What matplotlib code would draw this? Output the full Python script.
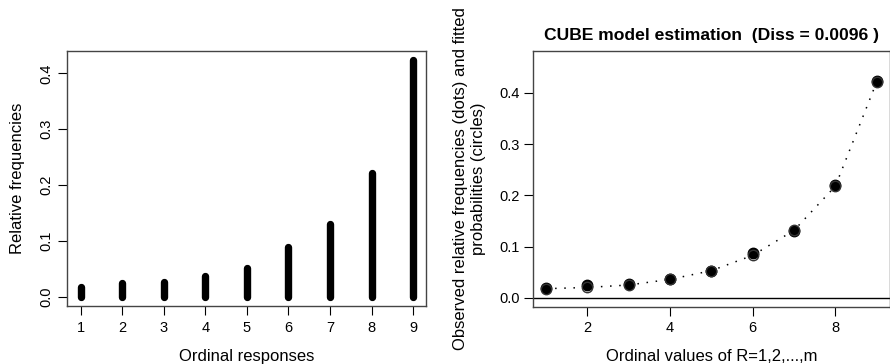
import numpy as np
import matplotlib.pyplot as plt

plt.rcParams['font.family'] = ['Liberation Sans', 'DejaVu Sans']
plt.rcParams['font.size'] = 10.5

# data
categories = [1, 2, 3, 4, 5, 6, 7, 8, 9]
observed = [0.018, 0.024, 0.026, 0.037, 0.052, 0.088, 0.130, 0.221, 0.423]
fitted = [0.0176, 0.0200, 0.0248, 0.0358, 0.0528, 0.0827, 0.1316, 0.2180, 0.4220]
diss = 0.0096

fig = plt.figure(figsize=(8.9, 3.64), dpi=100)

spine_col = '#444444'

# left: relative frequencies
ax1 = fig.add_axes([67/890, 58/364, 359/890, 255/364])
ax1.vlines(categories, 0, observed, colors='black', linewidth=5.3, capstyle='round')
ax1.set_xlim(0.67, 9.31)
ax1.set_ylim(-0.0169, 0.44)
ax1.set_xticks(categories)
ax1.set_yticks([0.0, 0.1, 0.2, 0.3, 0.4])
ax1.set_yticklabels(['0.0', '0.1', '0.2', '0.3', '0.4'], rotation=90, va='center')
ax1.tick_params(axis='both', length=6.5, width=0.8, pad=3)
ax1.tick_params(axis='x', pad=4)
ax1.set_xlabel('Ordinal responses', fontsize=12, va='top')
ax1.set_ylabel('Relative frequencies', fontsize=12)
ax1.xaxis.set_label_coords(0.5, -0.168)
ax1.yaxis.set_label_coords(-0.118, 0.5)
for s in ax1.spines.values():
    s.set_color(spine_col)
    s.set_linewidth(1)

# right: CUBE model estimation
ax2 = fig.add_axes([532.7/890, 57.3/364, 357.3/890, 255.7/364])
ax2.axhline(0, color='black', linewidth=1)
ax2.plot(categories, fitted, linestyle=(0, (1, 5)), color='black', linewidth=1.1)
ax2.plot(categories, observed, 'o', color='black', markersize=7.5)
ax2.plot(categories, fitted, 'o', markerfacecolor='none', markeredgecolor='#333333',
         markersize=7.5, markeredgewidth=1)
ax2.set_xlim(0.68, 9.32)
ax2.set_ylim(-0.0176, 0.482)
ax2.set_xticks([2, 4, 6, 8])
ax2.set_yticks([0.0, 0.1, 0.2, 0.3, 0.4])
ax2.set_yticklabels(['0.0', '0.1', '0.2', '0.3', '0.4'])
ax2.tick_params(axis='both', length=6.5, width=0.8, pad=3)
ax2.tick_params(axis='x', pad=4)
ax2.set_xlabel('Ordinal values of R=1,2,...,m', fontsize=12, va='top')
ax2.set_ylabel('Observed relative frequencies (dots) and fitted\nprobabilities (circles)',
               fontsize=12, linespacing=1.3)
ax2.xaxis.set_label_coords(0.5, -0.165)
ax2.yaxis.set_label_coords(-0.13, 0.5)
ax2.set_title('CUBE model estimation  (Diss = %.4f )' % diss, fontweight='bold', y=1.01)
for s in ax2.spines.values():
    s.set_color(spine_col)
    s.set_linewidth(1)

fig.savefig('out.png', dpi=100)
